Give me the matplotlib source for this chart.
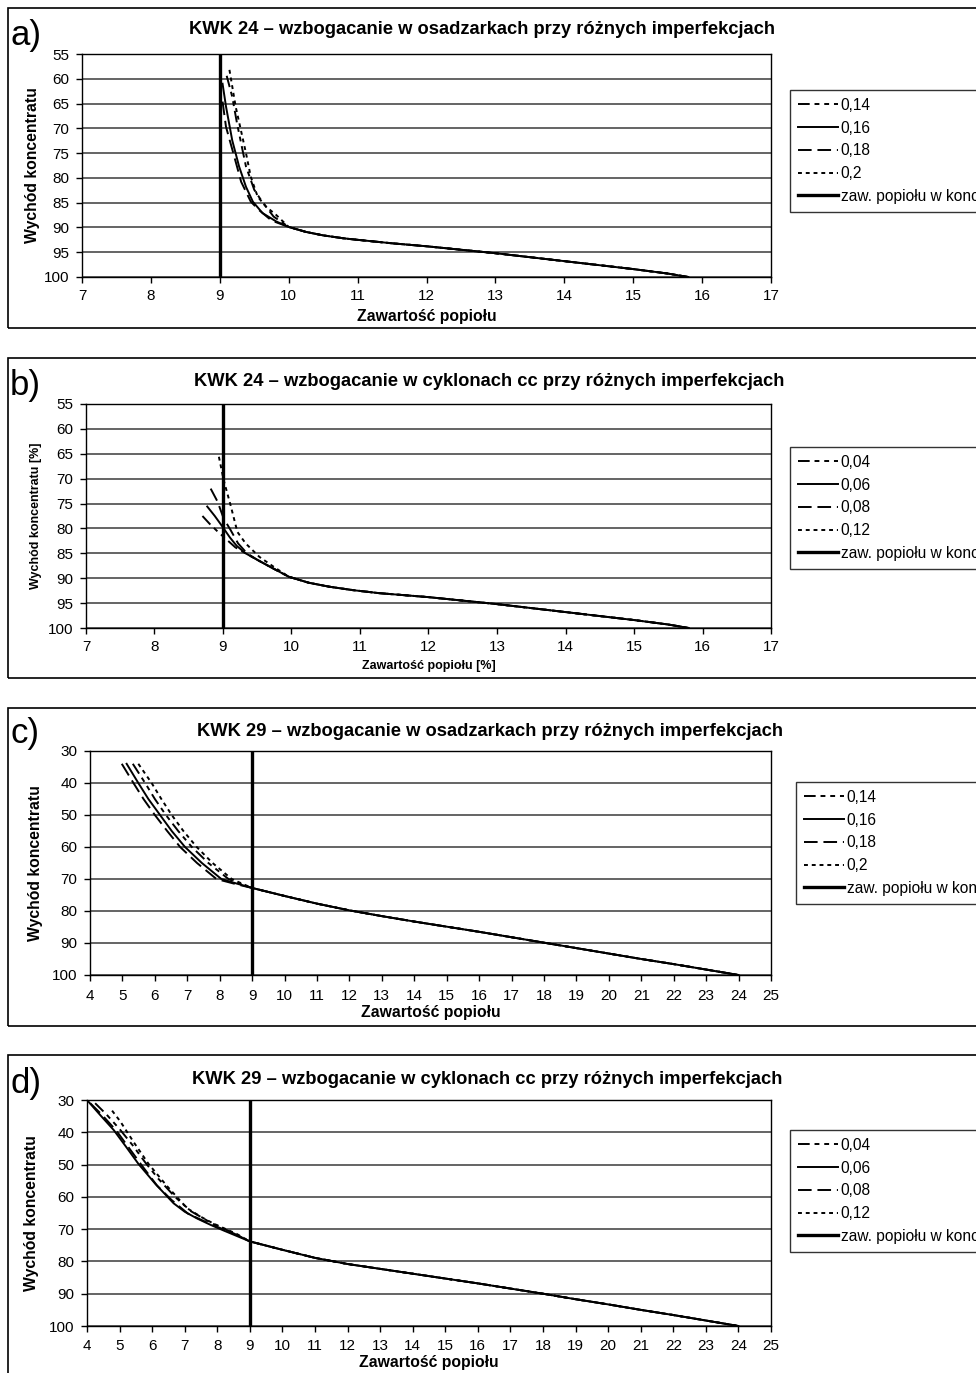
import matplotlib.pyplot as plt
from matplotlib.patches import Rectangle

plt.rcParams['font.family'] = ['Liberation Sans', 'DejaVu Sans']

W, H = 976, 1373

# ---------------- dane ----------------
# a) KWK 24 - osadzarki
a_labels = ['0,14', '0,16', '0,18', '0,2']
a_x014 = [9.10, 9.18, 9.25, 9.33, 9.38, 9.50, 9.60, 9.78]
a_y014 = [59.4, 63.6, 69.0, 74.4, 77.7, 82.4, 84.5, 87.8]
a_x016 = [9.04, 9.09, 9.18, 9.28, 9.38, 9.48, 9.62, 9.82]
a_y016 = [61.0, 65.6, 72.4, 77.7, 81.8, 84.8, 87.1, 88.8]
a_x018 = [9.04, 9.09, 9.21, 9.31, 9.45, 9.57, 9.75]
a_y018 = [64.6, 69.7, 75.7, 80.8, 84.8, 86.5, 88.6]
a_x020 = [9.14, 9.23, 9.38, 9.45, 9.55, 9.67, 9.82]
a_y020 = [58.2, 65.6, 75.0, 79.8, 83.8, 85.8, 87.5]
a_tail_x = [10.0, 10.25, 10.5, 10.8, 11.0, 11.5, 12.0, 12.5, 13.0, 13.5, 14.0, 14.5, 15.0, 15.5, 15.8]
a_tail_y = [89.9, 90.9, 91.6, 92.2, 92.5, 93.2, 93.8, 94.5, 95.2, 96.0, 96.8, 97.6, 98.4, 99.3, 100.0]

# b) KWK 24 - cyklony cc
b_labels = ['0,04', '0,06', '0,08', '0,12']
b_x004 = [8.70, 8.80, 8.92, 9.05, 9.18, 9.33, 9.50, 9.70]
b_y004 = [77.5, 79.0, 80.6, 82.2, 83.8, 85.0, 86.3, 87.8]
b_x006 = [8.77, 8.88, 8.99, 9.10, 9.20, 9.33, 9.50, 9.70]
b_y006 = [75.6, 77.5, 79.6, 81.8, 83.5, 85.0, 86.3, 87.8]
b_x008 = [8.82, 8.92, 9.01, 9.11, 9.22, 9.35, 9.50, 9.70]
b_y008 = [72.0, 74.6, 78.0, 80.3, 83.0, 85.0, 86.3, 87.8]
b_x012 = [8.94, 9.01, 9.11, 9.21, 9.33, 9.53, 9.75]
b_y012 = [65.6, 70.3, 75.3, 80.7, 83.0, 85.7, 87.8]
b_tail_x = [9.96, 10.25, 10.55, 10.9, 11.28, 12.0, 12.5, 13.0, 13.5, 14.0, 14.5, 15.0, 15.5, 15.8]
b_tail_y = [89.7, 90.9, 91.7, 92.4, 93.0, 93.8, 94.5, 95.2, 96.0, 96.8, 97.6, 98.4, 99.3, 100.0]

# c) KWK 29 - osadzarki
c_labels = ['0,14', '0,16', '0,18', '0,2']
c_x014 = [5.32, 5.70, 6.00, 6.34, 6.72, 7.14, 7.65, 8.27, 8.65]
c_y014 = [34.0, 40.0, 45.0, 50.0, 55.0, 60.0, 65.0, 70.0, 71.6]
c_x016 = [5.13, 5.49, 5.80, 6.16, 6.52, 6.93, 7.45, 8.05, 8.55]
c_y016 = [34.0, 40.0, 45.0, 50.0, 55.0, 60.0, 65.0, 70.0, 71.5]
c_x018 = [4.98, 5.34, 5.65, 6.00, 6.38, 6.78, 7.30, 7.90, 8.50]
c_y018 = [34.0, 40.0, 45.0, 50.0, 55.0, 60.0, 65.0, 70.0, 71.6]
c_x020 = [5.49, 5.90, 6.20, 6.52, 6.88, 7.29, 7.78, 8.37, 8.70]
c_y020 = [34.0, 40.0, 45.0, 50.0, 55.0, 60.0, 65.0, 70.0, 71.5]
c_tail_x = [9.0, 10, 11, 12, 13, 14, 15, 16, 17, 18, 19, 20, 21, 22, 23, 24]
c_tail_y = [72.8, 75.3, 77.7, 79.8, 81.6, 83.3, 84.9, 86.5, 88.2, 89.9, 91.6, 93.3, 95.0, 96.6, 98.3, 100.0]

# d) KWK 29 - cyklony cc
d_labels = ['0,04', '0,06', '0,08', '0,12']
d_x004 = [4.25, 4.60, 5.00, 5.40, 5.80, 6.20, 6.70, 7.20, 7.80, 8.40]
d_y004 = [31.0, 34.5, 39.0, 44.0, 49.5, 54.5, 60.0, 64.5, 68.0, 70.8]
d_x006 = [4.00, 4.40, 4.82, 5.20, 5.58, 6.10, 6.66, 7.00, 7.38, 7.80, 8.19]
d_y006 = [30.0, 34.6, 39.3, 44.5, 49.8, 56.0, 62.0, 64.6, 66.7, 68.7, 70.4]
d_x008 = [4.10, 4.45, 4.90, 5.30, 5.70, 6.15, 6.60, 7.10, 7.80, 8.50]
d_y008 = [31.0, 34.5, 39.5, 45.0, 50.5, 56.5, 61.0, 65.2, 68.5, 71.3]
d_x012 = [4.77, 5.02, 5.43, 5.89, 6.46, 7.07, 7.50, 7.89, 8.60]
d_y012 = [33.3, 36.6, 43.0, 49.8, 56.7, 63.5, 66.2, 68.3, 71.5]
d_tail_x = [9.0, 10, 11, 12, 13, 14, 15, 16, 17, 18, 19, 20, 21, 22, 23, 24]
d_tail_y = [73.8, 76.4, 78.9, 80.8, 82.3, 83.8, 85.3, 86.8, 88.4, 90.0, 91.7, 93.3, 95.0, 96.6, 98.3, 100.0]

konc_label = 'zaw. popiołu w koncentracie'
konc_x = 9

styles = [(0, (6, 2.5, 2.5, 2.5, 2.5, 2.5)), '-', (0, (7, 3)), (0, (2, 2))]


def fx(px):
    return px / W


def fy(py):
    return 1 - py / H


fig = plt.figure(figsize=(W / 100, H / 100), dpi=100)

panels = [
    dict(letter='a)', title='KWK 24 – wzbogacanie w osadzarkach przy różnych imperfekcjach',
         ylabel='Wychód koncentratu', xlabel='Zawartość popiołu', small=False,
         rect=(82, 54, 771, 277), frame=(8, 8, 328), title_xy=(482, 30), letter_y=35,
         ylab_x=33, tick_y=297, xlab_y=316, leg=(790, 90),
         xlim=(7, 17), xticks=range(7, 18), ylim=(55, 100), yticks=range(55, 101, 5),
         labels=a_labels,
         xs=[a_x014, a_x016, a_x018, a_x020], ys=[a_y014, a_y016, a_y018, a_y020],
         tx=a_tail_x, ty=a_tail_y),
    dict(letter='b)', title='KWK 24 – wzbogacanie w cyklonach cc przy różnych imperfekcjach',
         ylabel='Wychód koncentratu [%]', xlabel='Zawartość popiołu [%]', small=True,
         rect=(86, 404, 771, 628), frame=(8, 358, 678), title_xy=(489, 381), letter_y=385,
         ylab_x=36, tick_y=648, xlab_y=666, leg=(790, 447),
         xlim=(7, 17), xticks=range(7, 18), ylim=(55, 100), yticks=range(55, 101, 5),
         labels=b_labels,
         xs=[b_x004, b_x006, b_x008, b_x012], ys=[b_y004, b_y006, b_y008, b_y012],
         tx=b_tail_x, ty=b_tail_y),
    dict(letter='c)', title='KWK 29 – wzbogacanie w osadzarkach przy różnych imperfekcjach',
         ylabel='Wychód koncentratu', xlabel='Zawartość popiołu', small=False,
         rect=(90, 751, 771, 975), frame=(8, 708, 1026), title_xy=(490, 731), letter_y=733,
         ylab_x=36, tick_y=997, xlab_y=1012, leg=(796, 782),
         xlim=(4, 25), xticks=range(4, 26), ylim=(30, 100), yticks=range(30, 101, 10),
         labels=c_labels,
         xs=[c_x014, c_x016, c_x018, c_x020], ys=[c_y014, c_y016, c_y018, c_y020],
         tx=c_tail_x, ty=c_tail_y),
    dict(letter='d)', title='KWK 29 – wzbogacanie w cyklonach cc przy różnych imperfekcjach',
         ylabel='Wychód koncentratu', xlabel='Zawartość popiołu', small=False,
         rect=(87, 1100, 771, 1326), frame=(8, 1055, 1400), title_xy=(487, 1079), letter_y=1083,
         ylab_x=32, tick_y=1347, xlab_y=1362, leg=(790, 1130),
         xlim=(4, 25), xticks=range(4, 26), ylim=(30, 100), yticks=range(30, 101, 10),
         labels=d_labels,
         xs=[d_x004, d_x006, d_x008, d_x012], ys=[d_y004, d_y006, d_y008, d_y012],
         tx=d_tail_x, ty=d_tail_y),
]

for p in panels:
    # ramka panelu
    fl, ft, fb = p['frame']
    fig.add_artist(Rectangle((fx(fl), fy(fb)), 1.2, (fb - ft) / H, transform=fig.transFigure,
                             fill=False, edgecolor='black', lw=1.2))

    l, t, r, b = p['rect']
    ax = fig.add_axes([fx(l), fy(b), (r - l) / W, (b - t) / H])

    handles = []
    for xs, ys, lab, ls in zip(p['xs'], p['ys'], p['labels'], styles):
        h, = ax.plot(xs + p['tx'], ys + p['ty'], color='black', lw=1.4, linestyle=ls, label=lab)
        handles.append(h)
    h = ax.axvline(konc_x, color='black', lw=2.4, label=konc_label)
    handles.append(h)

    ax.set_xlim(*p['xlim'])
    ax.set_ylim(p['ylim'][1], p['ylim'][0])
    ax.set_xticks(list(p['xticks']))
    ax.set_yticks(list(p['yticks']))
    ax.yaxis.grid(True, color='#3a3a3a', lw=1.1)
    ax.set_axisbelow(True)
    for s in ax.spines.values():
        s.set_color('black')
        s.set_linewidth(1.0)
    ax.tick_params(direction='out', length=4, width=1, labelsize=11, colors='black')
    ax.tick_params(axis='x', pad=(p['tick_y'] - b) * 0.72 - 9.5)
    ax.tick_params(axis='y', pad=5)

    lab_size = 9 if p['small'] else 11.3
    fig.text(fx((l + r) / 2), fy(p['xlab_y']), p['xlabel'], ha='center', va='center',
             fontsize=lab_size, fontweight='bold')
    fig.text(fx(p['ylab_x']), fy((t + b) / 2), p['ylabel'], ha='center', va='center',
             rotation=90, fontsize=lab_size, fontweight='bold')
    fig.text(fx(p['title_xy'][0]), fy(p['title_xy'][1]), p['title'], ha='center', va='center',
             fontsize=13.2, fontweight='bold')
    fig.text(fx(10), fy(p['letter_y']), p['letter'], ha='left', va='center', fontsize=25)

    leg = fig.legend(handles=handles, loc='upper left',
                     bbox_to_anchor=(fx(p['leg'][0]), fy(p['leg'][1])), borderaxespad=0,
                     fontsize=11.2, frameon=True, fancybox=False, edgecolor='black',
                     handlelength=2.6, handletextpad=0.15, labelspacing=0.5,
                     borderpad=0.5)
    leg.get_frame().set_linewidth(1.0)

fig.savefig('out.png', dpi=100)
